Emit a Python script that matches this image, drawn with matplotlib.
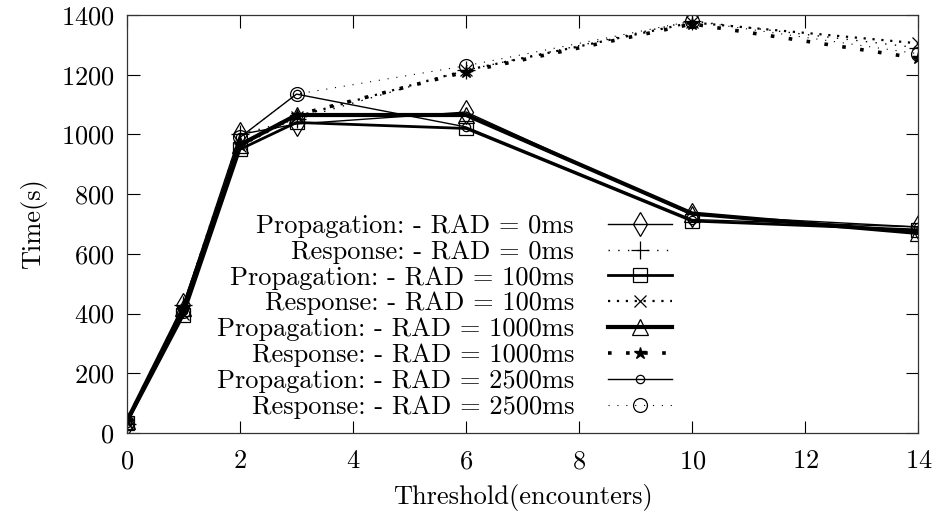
import matplotlib
matplotlib.use("Agg")
import matplotlib.pyplot as plt

plt.rcParams["font.family"] = ["cmr10", "DejaVu Serif"]
plt.rcParams["mathtext.fontset"] = "cm"
plt.rcParams["axes.unicode_minus"] = False
plt.rcParams["axes.formatter.use_mathtext"] = True

threshold = [0, 1, 2, 3, 6, 10, 14]

prop_0 = [30, 430, 1000, 1035, 1075, 730, 690]
resp_0 = [30, 430, 1000, 1050, 1215, 1380, 1290]
prop_100 = [35, 395, 950, 1040, 1020, 710, 680]
resp_100 = [35, 400, 960, 1060, 1215, 1375, 1305]
prop_1000 = [40, 420, 965, 1065, 1065, 735, 670]
resp_1000 = [40, 420, 965, 1065, 1210, 1370, 1255]
prop_2500 = [35, 410, 990, 1135, 1025, 715, 690]
resp_2500 = [35, 410, 990, 1135, 1230, 1380, 1270]

labels = [
    "Propagation: - RAD = 0ms",
    "Response: - RAD = 0ms",
    "Propagation: - RAD = 100ms",
    "Response: - RAD = 100ms",
    "Propagation: - RAD = 1000ms",
    "Response: - RAD = 1000ms",
    "Propagation: - RAD = 2500ms",
    "Response: - RAD = 2500ms",
]

FS = 19

fig = plt.figure(figsize=(9.4, 5.17), dpi=100)
ax = fig.add_axes([0.135, 0.1625, 0.842, 0.8085])

k = dict(color="black", markerfacecolor="none", markeredgecolor="black", markeredgewidth=0.9)
ax.plot(threshold, prop_0, "-", lw=1.0, marker="d", ms=12, label=labels[0], **k)
ax.plot(threshold, resp_0, ls=(0, (1, 6)), lw=1.0, marker="+", ms=13, label=labels[1], **k)
ax.plot(threshold, prop_100, "-", lw=2.0, marker="s", ms=10, label=labels[2], **k)
ax.plot(threshold, resp_100, ls=(0, (1, 3)), lw=1.6, marker="x", ms=9, label=labels[3], **k)
ax.plot(threshold, prop_1000, "-", lw=3.0, marker="^", ms=11, label=labels[4], **k)
ax.plot(threshold, resp_1000, ls=(0, (1, 4)), lw=2.6, marker="*", ms=9,
        color="black", markerfacecolor="black", markeredgecolor="black", label=labels[5])
ax.plot(threshold, prop_2500, "-", lw=1.0, marker="o", ms=6, label=labels[6], **k)
ax.plot(threshold, resp_2500, ls=(0, (1, 7)), lw=0.8, marker="o", ms=10, label=labels[7], **k)

ax.set_xlim(0, 14)
ax.set_ylim(0, 1400)
ax.set_xticks(range(0, 15, 2))
ax.set_yticks(range(0, 1401, 200))
ax.tick_params(direction="in", length=9, width=0.8, top=True, right=True,
               labelsize=FS)
ax.tick_params(axis="x", pad=12)
ax.tick_params(axis="y", pad=9)
for s in ax.spines.values():
    s.set_linewidth(0.9)
    s.set_color("#333333")

ax.set_xlabel("Threshold(encounters)", fontsize=FS, labelpad=8)
ax.set_ylabel("Time(s)", fontsize=FS, labelpad=10)

ax.legend(loc="upper right", bbox_to_anchor=(0.705, 0.555), frameon=False,
          markerfirst=False, fontsize=FS, handlelength=2.4, handletextpad=1.3,
          labelspacing=0.08, borderpad=0)

fig.savefig("out.png", dpi=100)
